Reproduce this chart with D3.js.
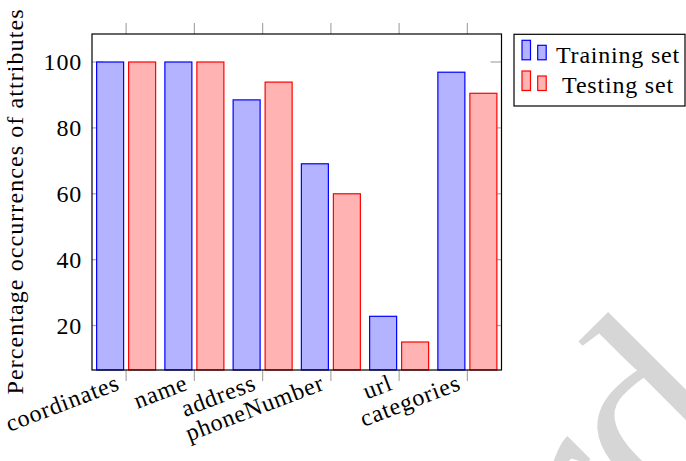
<!DOCTYPE html>
<html>
<head>
<meta charset="utf-8">
<script src="https://cdn.jsdelivr.net/npm/d3@7"></script>
<style>
  html, body { margin: 0; padding: 0; background: #fff; }
  svg { display: block; }
  text { font-family: "Liberation Serif", "DejaVu Serif", serif; fill: #000; }
</style>
</head>
<body>
<div id="chart"></div>
<script>
// data
const categories = ["coordinates", "name", "address", "phoneNumber", "url", "categories"];
const seriesNames = ["Training set", "Testing set"];
const trainingValues = [100, 100, 88.5, 69.1, 22.8, 96.9];
const testingValues = [100, 100, 93.9, 60.0, 15.0, 90.5];
const yTickValues = [20, 40, 60, 80, 100];

const width = 686, height = 461;
const margins = { top: 34, bottom: 91, left: 92, right: 184.5 };
const fontSize = 24;
const letterSpacing = "0.8px";

const colors = {
  "Training set": { fill: "#b3b3ff", stroke: "#0000ff" },
  "Testing set": { fill: "#ffb3b3", stroke: "#ff0000" }
};

const svg = d3.select("#chart").append("svg")
  .attr("width", width)
  .attr("height", height);

// large diagonal watermark, only its corner shows (behind everything)
svg.append("text")
  .attr("transform", "translate(751,429) rotate(-45)")
  .attr("text-anchor", "end")
  .style("font-size", "265px")
  .style("fill", "#d6d6d6")
  .text("rd");

const x0 = d3.scaleBand()
  .domain(categories)
  .range([margins.left, width - margins.right])
  .padding(0);

const x1 = d3.scaleBand()
  .domain(seriesNames)
  .range([-29.5, 29.5])
  .paddingInner(5 / 32)
  .paddingOuter(0);

// pgfplots-like enlarged limits
const y = d3.scaleLinear()
  .domain([6.5, 108.5])
  .range([height - margins.bottom, margins.top]);

const rows = categories.map((c, i) => ({
  category: c,
  values: [
    { series: "Training set", value: trainingValues[i] },
    { series: "Testing set", value: testingValues[i] }
  ]
}));

const center = c => x0(c) + x0.bandwidth() / 2;
const plotLeft = margins.left, plotRight = width - margins.right;
const plotTop = margins.top, plotBottom = height - margins.bottom;

// grey tick marks
const tickColor = "#a8a8a8";
const ticks = svg.append("g").attr("stroke", tickColor).attr("stroke-width", 1.2);
yTickValues.forEach(v => {
  ticks.append("line").attr("x1", plotLeft).attr("x2", plotLeft + 11).attr("y1", y(v)).attr("y2", y(v));
  ticks.append("line").attr("x1", plotRight - 11).attr("x2", plotRight).attr("y1", y(v)).attr("y2", y(v));
});
categories.forEach(c => {
  ticks.append("line").attr("x1", center(c)).attr("x2", center(c)).attr("y1", plotTop - 11).attr("y2", plotTop);
  ticks.append("line").attr("x1", center(c)).attr("x2", center(c)).attr("y1", plotBottom).attr("y2", plotBottom + 11);
});

// bars
const groups = svg.append("g").selectAll("g")
  .data(rows)
  .join("g")
  .attr("transform", d => `translate(${center(d.category)},0)`);

groups.selectAll("rect")
  .data(d => d.values)
  .join("rect")
  .attr("x", d => x1(d.series))
  .attr("width", x1.bandwidth())
  .attr("y", d => y(d.value))
  .attr("height", d => y.range()[0] - y(d.value))
  .attr("fill", d => colors[d.series].fill)
  .attr("stroke", d => colors[d.series].stroke)
  .attr("stroke-width", 1.2);

// frame
svg.append("rect")
  .attr("x", plotLeft)
  .attr("y", plotTop)
  .attr("width", plotRight - plotLeft)
  .attr("height", plotBottom - plotTop)
  .attr("fill", "none")
  .attr("stroke", "#000")
  .attr("stroke-width", 1.2);

// y tick labels
svg.append("g").selectAll("text")
  .data(yTickValues)
  .join("text")
  .attr("x", plotLeft - 10)
  .attr("y", d => y(d))
  .attr("dy", "0.34em")
  .attr("text-anchor", "end")
  .style("font-size", fontSize + "px")
  .style("letter-spacing", letterSpacing)
  .text(d => d);

// x tick labels, rotated
svg.append("g").selectAll("text")
  .data(categories)
  .join("text")
  .attr("transform", d => `translate(${center(d) - 8},${plotBottom + 12}) rotate(-21)`)
  .attr("dy", "0.32em")
  .attr("text-anchor", "end")
  .style("font-size", fontSize + "px")
  .style("letter-spacing", letterSpacing)
  .text(d => d);

// y axis title
svg.append("text")
  .attr("transform", `translate(23,${(plotTop + plotBottom) / 2}) rotate(-90)`)
  .attr("text-anchor", "middle")
  .attr("textLength", 385)
  .attr("lengthAdjust", "spacing")
  .style("font-size", fontSize + "px")
  .text("Percentage occurrences of attributes");

// legend
const legend = svg.append("g").attr("transform", "translate(514,34.3)");
legend.append("rect")
  .attr("width", 171)
  .attr("height", 71.7)
  .attr("fill", "#fff")
  .attr("stroke", "#000")
  .attr("stroke-width", 1.2);

seriesNames.forEach((s, i) => {
  const row = legend.append("g").attr("transform", `translate(0,${i * 30.7})`);
  row.append("rect")
    .attr("x", 8).attr("y", 6).attr("width", 8.5).attr("height", 19.5)
    .attr("fill", colors[s].fill).attr("stroke", colors[s].stroke).attr("stroke-width", 1.2);
  row.append("rect")
    .attr("x", 23.7).attr("y", 11).attr("width", 8.5).attr("height", 14.5)
    .attr("fill", colors[s].fill).attr("stroke", colors[s].stroke).attr("stroke-width", 1.2);
  row.append("text")
    .attr("x", 104)
    .attr("y", 28.3)
    .attr("text-anchor", "middle")
    .style("font-size", fontSize + "px")
    .style("letter-spacing", letterSpacing)
    .text(s);
});
</script>
</body>
</html>
